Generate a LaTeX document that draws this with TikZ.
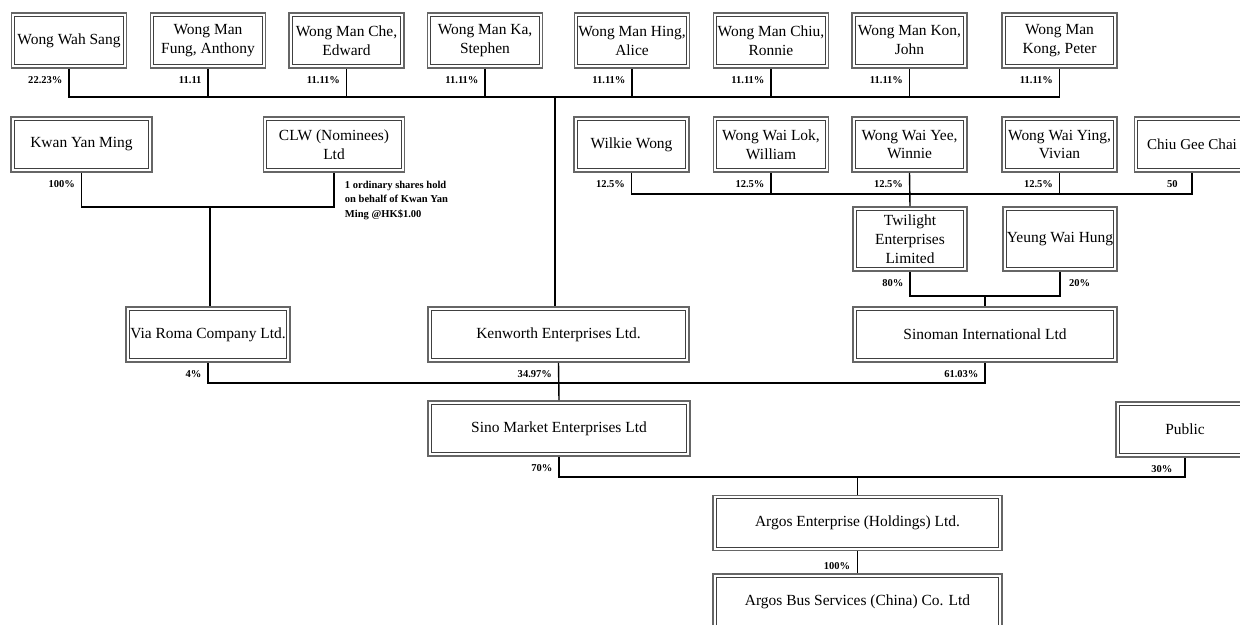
\documentclass[tikz,border=0pt]{standalone}
\usepackage{fontspec}
\setmainfont{Liberation Serif}
\usepackage{tikz}
\usetikzlibrary{positioning}

\tikzset{
  holder/.style={draw=black!60, line width=1.1pt,
    path picture={\draw[black!75, line width=0.5pt]
      ([shift={(1.8pt,1.8pt)}]path picture bounding box.south west) rectangle
      ([shift={(-1.8pt,-1.8pt)}]path picture bounding box.north east);},
    align=center, inner sep=0pt, minimum width=2.3cm, minimum height=1.1cm,
    font=\fontsize{8.8}{10.8}\selectfont},
  pct/.style={inner sep=0pt, align=left, font=\fontsize{6}{8.2}\selectfont\bfseries},
  link/.style={draw, line width=0.8pt}
}

\begin{document}
\begin{tikzpicture}[x=0.02cm, y=-0.02cm]
      \useasboundingbox (0,0) rectangle (1240,625);
      \clip (0,0) rectangle (1240,625);

      % shareholders of Kenworth
      \node[holder] (wws) at (69,40.5) {Wong Wah Sang};
      \node[holder] (fung) at (208,40.5) {Wong Man\\Fung, Anthony};
      \node[holder] (che) at (346.5,40.5) {Wong Man Che,\\Edward};
      \node[holder] (ka) at (485,40.5) {Wong Man Ka,\\Stephen};
      \node[holder] (hing) at (632,40.5) {Wong Man Hing,\\Alice};
      \node[holder] (chiu) at (771,40.5) {Wong Man Chiu,\\Ronnie};
      \node[holder] (kon) at (909.5,40.5) {Wong Man Kon,\\John};
      \node[holder] (kong) at (1059.5,40.5) {Wong Man\\Kong, Peter};

      % shareholders of Via Roma
      \node[holder, minimum width=2.82cm] (kwan) at (81.5,144.5) {Kwan Yan Ming};
      \node[holder, minimum width=2.82cm] (clw) at (334,144.5) {CLW (Nominees)\\Ltd};

      % shareholders of Twilight
      \node[holder] (wilkie) at (631.5,144.5) {Wilkie Wong};
      \node[holder] (william) at (771,144.5) {Wong Wai Lok,\\William};
      \node[holder] (winnie) at (909.5,144.5) {Wong Wai Yee,\\Winnie};
      \node[holder] (vivian) at (1059.5,144.5) {Wong Wai Ying,\\Vivian};
      \node[holder, font=\fontsize{8.6}{10.8}\selectfont] (gee) at (1192,144.5) {Chiu Gee Chai};

      \node[holder, minimum width=2.28cm, minimum height=1.28cm] (twilight) at (910,239) {Twilight\\Enterprises\\Limited};
      \node[holder, minimum width=2.28cm, minimum height=1.28cm] (yeung) at (1060,239) {Yeung Wai Hung};

      % holding companies
      \node[holder, minimum width=3.28cm] (via) at (208,334.5) {Via Roma Company Ltd.};
      \node[holder, minimum width=5.22cm] (ken) at (558.5,334.5) {Kenworth Enterprises Ltd.};
      \node[holder, minimum width=5.28cm] (sinoman) at (985,334.5) {Sinoman International Ltd};
      \node[holder, minimum width=5.24cm] (market) at (559,428.5) {Sino Market Enterprises Ltd};
      \node[holder, minimum width=2.76cm] (public) at (1185,429.5) {Public};
      \node[holder, minimum width=5.78cm] (argos) at (857.5,523) {Argos Enterprise (Holdings) Ltd.};
      \node[holder, minimum width=5.78cm] (bus) at (857.5,601.5) {Argos Bus Services (China) Co. Ltd};

      % connectors
      \coordinate (kbus) at (555,97);
      \draw[link] (wws.south) |- (kbus) -| (kong.south);
      \foreach \n in {fung,che,ka,hing,chiu,kon}
        \draw[link] (\n.south) -- (\n.south |- kbus);
      \draw[link] (kbus) -- (kbus |- ken.north);

      \coordinate (vbus) at (210,207);
      \draw[link] (kwan.south) |- (vbus) -| (clw.south);
      \draw[link] (vbus) -- (vbus |- via.north);

      \coordinate (tbus) at (twilight.north |- 0,194);
      \draw[link] (wilkie.south) |- (tbus) -| (gee.south);
      \foreach \n in {william,vivian}
        \draw[link] (\n.south) -- (\n.south |- tbus);
      \draw[link] (winnie.south) -- (twilight.north);

      \coordinate (sbus) at (sinoman.north |- 0,296);
      \draw[link] (twilight.south) |- (sbus) -| (yeung.south);
      \draw[link] (sbus) -- (sinoman.north);

      \coordinate (mbus) at (ken.south |- 0,383);
      \draw[link] (via.south) |- (mbus) -| (sinoman.south);
      \draw[link] (ken.south) -- (market.north);

      \coordinate (abus) at (argos.north |- 0,477);
      \draw[link] (market.south) |- (abus) -| (public.south);
      \draw[link] (abus) -- (argos.north);
      \draw[link] (argos.south) -- (bus.north);

      % percentages
      \foreach \n/\v in {wws/22.23\%, fung/11.11, che/11.11\%, ka/11.11\%, hing/11.11\%,
          chiu/11.11\%, kon/11.11\%, kong/11.11\%, kwan/100\%, wilkie/12.5\%,
          william/12.5\%, winnie/12.5\%, vivian/12.5\%, twilight/80\%, via/4\%,
          ken/34.97\%, sinoman/61.03\%, market/70\%}
        \node[pct, below left=4pt and 3.5pt of \n.south] (p\n) {\v};
      \node[pct, below left=4pt and 8pt of gee.south] (pgee) {50};
      \node[pct, below right=4pt and 5pt of yeung.south] (pyeung) {20\%};
      \node[pct, below left=4pt and 7pt of public.south] (ppublic) {30\%};
      \node[pct, below left=6pt and 4pt of argos.south] (pargos) {100\%};
      \node[pct, below right=4.5pt and 6pt of clw.south] (pclw)
        {1 ordinary shares hold\\on behalf of Kwan Yan\\Ming @HK\$1.00};
\end{tikzpicture}
\end{document}
